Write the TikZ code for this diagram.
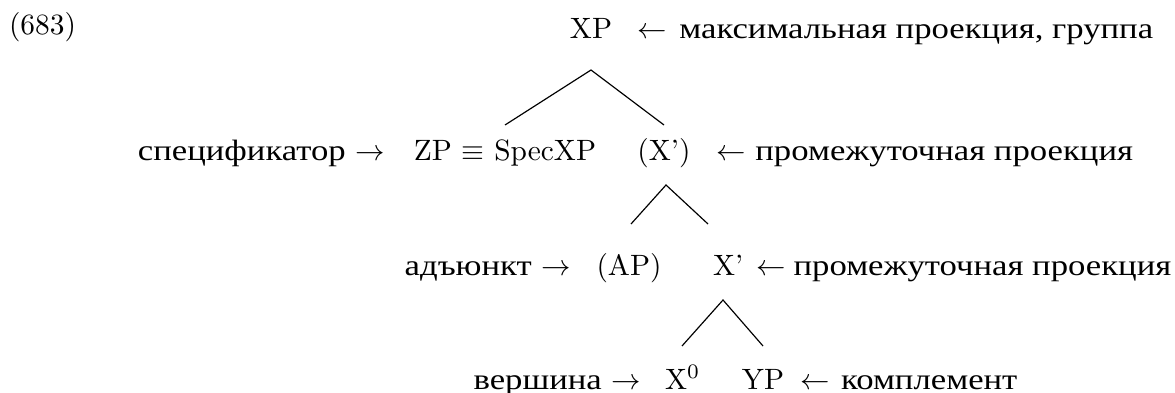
\documentclass[tikz,border=0pt]{standalone}
\usepackage{fontspec}
\newfontfamily\ru[FakeStretch=1.18]{Liberation Serif}
\begin{document}
\begin{tikzpicture}[x=0.34pt,y=-0.34pt,
  lab/.style={inner sep=0pt,outer sep=0pt,font=\fontsize{10}{12}\selectfont},
  edge/.style={line width=0.4pt}]
\useasboundingbox (0,0) rectangle (1175,392);
% row 1
\node[lab,anchor=base west] (num) at (9,35) {(683)};
\node[lab,anchor=base] (XP) at (591,39) {XP};
\node[lab,anchor=base west] (c1) at (637,39) {$\leftarrow$\hskip4.4pt{\ru максимальная проекция, группа}};
% row 2
\node[lab,anchor=base east] (spec) at (385,160) {{\ru спецификатор} $\rightarrow$};
\node[lab,anchor=base] (ZP) at (505,160) {ZP $\equiv$ SpecXP};
\node[lab,anchor=base] (Xb1) at (664,160) {(X')};
\node[lab,anchor=base west] (c2) at (716,160) {$\leftarrow$\hskip3.4pt{\ru промежуточная проекция}};
% row 3
\node[lab,anchor=base east] (adj) at (571,275) {{\ru адъюнкт} $\rightarrow$};
\node[lab,anchor=base] (AP) at (629,275) {(AP)};
\node[lab,anchor=base west] (Xb2) at (713,275) {X'};
\node[lab,anchor=base west] (c3) at (756,275) {$\leftarrow$\hskip2.8pt{\ru промежуточная проекция}};
% row 4
\node[lab,anchor=base east] (head) at (641,389) {{\ru вершина} $\rightarrow$};
\node[lab,anchor=base west] (X0) at (665,389) {X$^0$};
\node[lab,anchor=base] (YP) at (763,389) {YP};
\node[lab,anchor=base west] (c4) at (800,389) {$\leftarrow$\hskip4pt{\ru комплемент}};
% branch points
\coordinate (t1) at (591,70);
\coordinate (l1) at (505,125);
\coordinate (r1) at (664,125);
\coordinate (t2) at (666,185);
\coordinate (l2) at (631,224);
\coordinate (r2) at (708,224);
\coordinate (t3) at (723,300);
\coordinate (l3) at (682,346);
\coordinate (r3) at (763,346);
\draw[edge] (l1) -- (t1) -- (r1);
\draw[edge] (l2) -- (t2) -- (r2);
\draw[edge] (l3) -- (t3) -- (r3);
\end{tikzpicture}
\end{document}
